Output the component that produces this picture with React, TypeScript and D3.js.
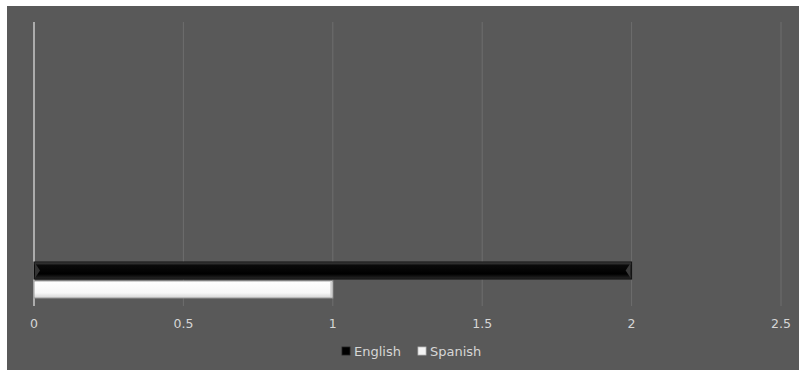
import React from "react";
import * as d3 from "d3";

const categories = ["English", "Spanish"];
const values = [2, 1];
const ticks = [0, 0.5, 1, 1.5, 2, 2.5];

const W = 799;
const H = 370;
const bg = { x: 7, y: 6 };
const plot = { left: 34, right: 781, top: 22, bottom: 306 };

export default function App() {
  const x = d3.scaleLinear().domain([0, 2.5]).range([plot.left, plot.right]);
  const y = d3
    .scaleBand<string>()
    .domain(categories)
    .range([262, 298])
    .paddingInner(0.1);

  const fills = ["url(#gBlack)", "url(#gWhite)"];
  const strokes = ["#111", "#9a9a9a"];
  const swatch = ["#000", "#f4f4f4"];

  const font = "'DejaVu Sans', 'Noto Sans', sans-serif";

  return (
    <svg
      width={W}
      height={H}
      style={{ position: "absolute", left: 0, top: 0, display: "block" }}
    >
      <defs>
        <linearGradient id="gBlack" x1="0" y1="0" x2="0" y2="1">
          <stop offset="0" stopColor="#4a4a4a" />
          <stop offset="0.2" stopColor="#0a0a0a" />
          <stop offset="0.7" stopColor="#000" />
          <stop offset="1" stopColor="#2a2a2a" />
        </linearGradient>
        <linearGradient id="gWhite" x1="0" y1="0" x2="0" y2="1">
          <stop offset="0" stopColor="#ffffff" />
          <stop offset="0.7" stopColor="#f7f7f7" />
          <stop offset="1" stopColor="#d4d4d4" />
        </linearGradient>
      </defs>
      <rect x={0} y={0} width={W} height={H} fill="#fff" />
      <rect x={bg.x} y={bg.y} width={W - bg.x} height={H - bg.y} fill="#595959" />

      {ticks.map((t) => (
        <line
          key={t}
          x1={x(t)}
          x2={x(t)}
          y1={plot.top}
          y2={plot.bottom}
          stroke={t === 0 ? "#c8c8c8" : "#6e6e6e"}
          strokeWidth={t === 0 ? 1.5 : 1}
        />
      ))}

      {categories.map((c, i) => {
        const by = y(c)!;
        const bh = y.bandwidth();
        const x0 = x(0);
        const x1 = x(values[i]);
        return (
          <g key={c}>
            <rect
              x={x0}
              y={by}
              width={x1 - x0}
              height={bh}
              fill={fills[i]}
              stroke={strokes[i]}
              strokeWidth={1}
            />
            {i === 0 && (
              <>
                <polygon
                  points={`${x0 + 1},${by + 1} ${x0 + 6},${by + bh / 2} ${x0 + 1},${by + bh - 1}`}
                  fill="#333"
                />
                <polygon
                  points={`${x1 - 1},${by + 1} ${x1 - 6},${by + bh / 2} ${x1 - 1},${by + bh - 1}`}
                  fill="#3a3a3a"
                />
              </>
            )}
            {i === 1 && (
              <line
                x1={x1 - 1.5}
                x2={x1 - 1.5}
                y1={by + 1}
                y2={by + bh - 1}
                stroke="#cfcfcf"
                strokeWidth={2}
              />
            )}
          </g>
        );
      })}

      {ticks.map((t) => (
        <text
          key={"l" + t}
          x={x(t)}
          y={328}
          textAnchor="middle"
          fill="#d6d6d6"
          fontFamily={font}
          fontSize={12.5}
        >
          {t}
        </text>
      ))}

      {categories.map((c, i) => {
        const lx = i === 0 ? 342 : 418;
        return (
          <g key={"lg" + c}>
            <rect
              x={lx}
              y={347}
              width={8}
              height={8}
              fill={swatch[i]}
              stroke={i === 0 ? "#222" : "#bbb"}
              strokeWidth={0.8}
            />
            <text
              x={lx + 12}
              y={355.5}
              fill="#d6d6d6"
              fontFamily={font}
              fontSize={13}
            >
              {c}
            </text>
          </g>
        );
      })}
    </svg>
  );
}
